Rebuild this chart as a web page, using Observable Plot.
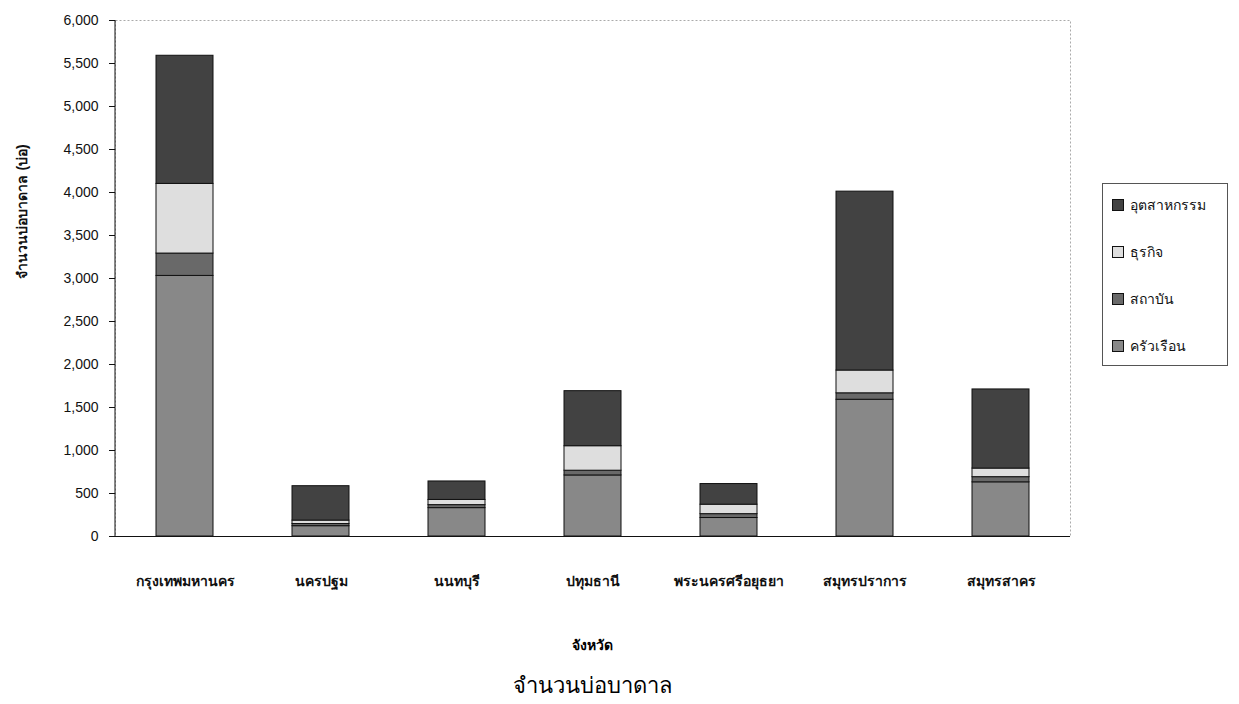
<!DOCTYPE html>
<html>
<head>
<meta charset="utf-8">
<script src="https://cdn.jsdelivr.net/npm/d3@7"></script>
<script src="https://cdn.jsdelivr.net/npm/@observablehq/plot@0.6"></script>
<style>
  body { margin: 0; background: #fff; font-family: Arial, "Liberation Sans", "Noto Sans", sans-serif; }
  #wrap { position: relative; width: 1239px; height: 704px; }
  #legend { position: absolute; left: 1102px; top: 183px; width: 124px; height: 181px;
            border: 1px solid #555; background: #fff; font-size: 14px; color: #111; }
  .item { position: absolute; left: 9px; display: flex; align-items: center; height: 20px; }
  .sw { width: 10px; height: 10px; border: 1px solid #111; margin-right: 6px; }
  #xtitle { position: absolute; left: 0; width: 1184px; top: 634px; text-align: center; font-size: 14px; font-weight: bold; }
  #title { position: absolute; left: 0; width: 1184px; top: 668px; text-align: center; font-size: 22px; }
</style>
</head>
<body>
<div id="wrap">
  <div id="chart"></div>
  <div id="legend"></div>
  <div id="xtitle">จังหวัด</div>
  <div id="title">จำนวนบ่อบาดาล</div>
</div>
<script>
// Provinces (x categories)
const provinces = ["กรุงเทพมหานคร", "นครปฐม", "นนทบุรี", "ปทุมธานี", "พระนครศรีอยุธยา", "สมุทรปราการ", "สมุทรสาคร"];
// Well types, stacked bottom to top
const wellTypes = ["ครัวเรือน", "สถาบัน", "ธุรกิจ", "อุตสาหกรรม"];
// Number of wells per province for each type
const household   = [3030, 120, 330, 710, 215, 1590, 630];
const institution = [260, 25, 35, 55, 45, 75, 60];
const business    = [810, 40, 60, 285, 110, 265, 100];
const industry    = [1490, 400, 215, 640, 240, 2080, 920];
const yTicks = d3.range(0, 6001, 500);
const typeColors = ["#888888", "#696969", "#dedede", "#424242"];

const seriesByType = [household, institution, business, industry];
const rows = [];
provinces.forEach((p, i) => {
  wellTypes.forEach((t, j) => rows.push({province: p, type: t, value: seriesByType[j][i]}));
});

// Solid left axis line along the plot frame
function leftAxisLine(index, scales, values, dimensions) {
  const {marginLeft, marginTop, marginBottom, height} = dimensions;
  return d3.create("svg:line")
    .attr("x1", marginLeft).attr("x2", marginLeft)
    .attr("y1", marginTop).attr("y2", height - marginBottom)
    .attr("stroke", "#111")
    .node();
}

const chart = Plot.plot({
  width: 1239,
  height: 600,
  marginLeft: 115,
  marginRight: 169,
  marginTop: 20,
  marginBottom: 64,
  style: {fontFamily: "Arial, 'Liberation Sans', 'Noto Sans', sans-serif", fontSize: "14px", color: "#111", background: "#fff"},
  x: {domain: provinces, paddingInner: 0.58, paddingOuter: 0.29, label: null},
  y: {domain: [0, 6000], label: null},
  color: {domain: wellTypes, range: typeColors},
  marks: [
    Plot.frame({stroke: "#aaa", strokeDasharray: "2,2"}),
    Plot.barY(rows, {x: "province", y: "value", fill: "type", stroke: "#111", strokeWidth: 1, order: wellTypes}),
    Plot.axisY({ticks: yTicks, tickFormat: d3.format(","), tickSize: 6, tickPadding: 11, fontSize: 14, label: null}),
    Plot.text(["จำนวนบ่อบาดาล (บ่อ)"], {frameAnchor: "left", rotate: -90, dx: -93, fontWeight: "bold", fontSize: 14}),
    Plot.axisX({tickSize: 0, tickPadding: 40, fontWeight: "bold", fontSize: 14, label: null}),
    leftAxisLine,
    Plot.ruleY([0], {stroke: "#111"})
  ]
});
document.getElementById("chart").appendChild(chart);

// Legend: top to bottom in reverse stacking order
const legend = document.getElementById("legend");
const order = [3, 2, 1, 0];
const tops = [11, 58, 105, 152];
order.forEach((j, k) => {
  const it = document.createElement("div");
  it.className = "item";
  it.style.top = tops[k] + "px";
  it.innerHTML = `<span class="sw" style="background:${typeColors[j]}"></span><span>${wellTypes[j]}</span>`;
  legend.appendChild(it);
});
</script>
</body>
</html>
